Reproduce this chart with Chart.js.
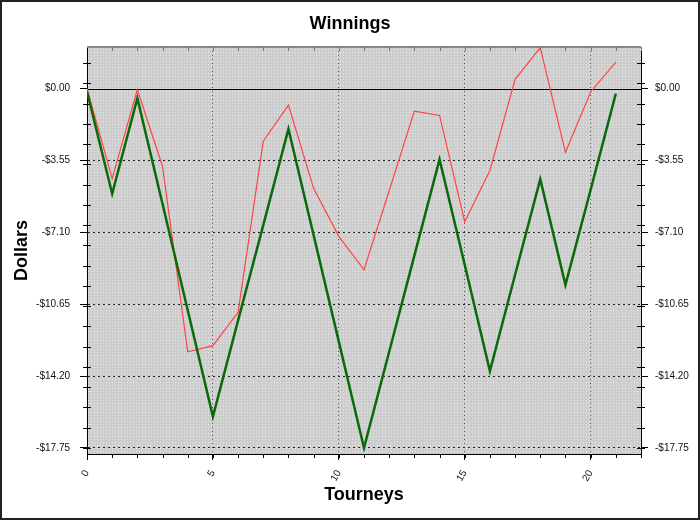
<!DOCTYPE html>
<html>
<head>
<meta charset="utf-8">
<script src="https://cdn.jsdelivr.net/npm/chart.js@4.4.1/dist/chart.umd.min.js"></script>
<style>
  html, body { margin: 0; padding: 0; background: #fff; }
  #grafico { display: block; }
</style>
</head>
<body>
<canvas id="grafico" width="700" height="520"></canvas>
<script>
// dados
const tourneys = [0, 1, 2, 3, 4, 5, 6, 7, 8, 9, 10, 11, 12, 13, 14, 15, 16, 17, 18, 19, 20, 21];
const winnings = [-0.15, -5.2, -0.48, -5.7, -10.95, -16.2, -11.45, -6.75, -2.0, -7.25, -12.5, -17.75,
  -13.0, -8.25, -3.5, -8.7, -13.95, -9.2, -4.48, -9.7, -5.0, -0.25];
const otherLine = [0, -4.45, -0.05, -3.85, -13.0, -12.7, -11.05, -2.6, -0.82, -4.93, -7.3, -8.95,
  -5.05, -1.12, -1.33, -6.58, -4.05, 0.45, 2.02, -3.15, -0.17, 1.3];
const yTicks = [0, -3.55, -7.1, -10.65, -14.2, -17.75];
const xTicks = [0, 5, 10, 15, 20];

Chart.defaults.font.family = "'Liberation Sans', Arial, sans-serif";

function dollars(v) {
  return (v < 0 ? "-$" : "$") + Math.abs(v).toFixed(2);
}

// fundo pontilhado
function makePattern(ctx) {
  const p = document.createElement("canvas");
  p.width = 3;
  p.height = 3;
  const pc = p.getContext("2d");
  pc.fillStyle = "#cdcdcd";
  pc.fillRect(0, 0, 3, 3);
  pc.fillStyle = "#e9e9e9";
  pc.fillRect(1, 1, 1, 1);
  return ctx.createPattern(p, "repeat");
}

const decor = {
  id: "decor",
  beforeDraw(chart) {
    const { ctx, chartArea: a } = chart;
    ctx.save();
    ctx.fillStyle = "#fff";
    ctx.fillRect(0, 0, chart.width, chart.height);
    ctx.fillStyle = makePattern(ctx);
    ctx.fillRect(a.left, a.top, a.right - a.left, a.bottom - a.top);
    ctx.restore();
  },
  beforeDatasetsDraw(chart) {
    const { ctx, chartArea: a, scales } = chart;
    const y = scales.y;
    const x = scales.x;
    ctx.save();
    // linha do zero
    const y0 = Math.round(y.getPixelForValue(0)) + 0.5;
    ctx.strokeStyle = "#000";
    ctx.lineWidth = 1;
    ctx.beginPath();
    ctx.moveTo(a.left, y0);
    ctx.lineTo(a.right, y0);
    ctx.stroke();
    // borda de cima cinza
    ctx.strokeStyle = "#8a8a8a";
    ctx.lineWidth = 2;
    ctx.beginPath();
    ctx.moveTo(a.left, a.top);
    ctx.lineTo(a.right, a.top);
    ctx.stroke();
    // ticks menores
    ctx.lineWidth = 1;
    ctx.strokeStyle = "#000";
    ctx.beginPath();
    for (let v = -17.75; v <= y.max; v += 1) {
      const py = Math.round(y.getPixelForValue(v)) + 0.5;
      ctx.moveTo(a.left - 4, py);
      ctx.lineTo(a.left + 4, py);
      ctx.moveTo(a.right - 4, py);
      ctx.lineTo(a.right + 4, py);
    }
    for (let t = 0; t <= x.max; t++) {
      const px = Math.round(x.getPixelForValue(t)) + 0.5;
      ctx.moveTo(px, a.bottom);
      ctx.lineTo(px, a.bottom + 4);
    }
    ctx.stroke();
    ctx.strokeStyle = "#777";
    ctx.beginPath();
    for (let t = 1; t <= x.max; t++) {
      const px = Math.round(x.getPixelForValue(t)) + 0.5;
      ctx.moveTo(px, a.top);
      ctx.lineTo(px, a.top + 4);
    }
    ctx.stroke();
    ctx.restore();
  },
  afterDraw(chart) {
    const ctx = chart.ctx;
    ctx.save();
    ctx.strokeStyle = "#222";
    ctx.lineWidth = 2;
    ctx.strokeRect(1, 1, chart.width - 2, chart.height - 2);
    ctx.restore();
  },
};

const tickFont = { size: 10 };

let grafico = new Chart(document.getElementById("grafico"), {
  type: "line",
  data: {
    labels: tourneys,
    datasets: [
      {
        label: "Winnings",
        data: winnings,
        borderColor: "#0a6a0a",
        borderWidth: 2.5,
        pointRadius: 0,
        tension: 0,
        order: 0,
      },
      {
        label: "Other",
        data: otherLine,
        borderColor: "#ff4444",
        borderWidth: 1.2,
        pointRadius: 0,
        tension: 0,
        order: 1,
      },
    ],
  },
  options: {
    responsive: false,
    animation: false,
    devicePixelRatio: 1,
    layout: { padding: 0 },
    plugins: {
      legend: { display: false },
      tooltip: { enabled: false },
      title: {
        display: true,
        text: "Winnings",
        color: "#000",
        font: { size: 18, weight: "bold" },
        padding: { top: 13, bottom: 12.4 },
      },
    },
    scales: {
      x: {
        type: "linear",
        min: 0,
        max: 22,
        afterBuildTicks: (s) => {
          s.ticks = xTicks.map((v) => ({ value: v }));
        },
        afterFit: (s) => {
          s.height = 66;
        },
        grid: {
          color: "#555",
          tickLength: 6,
          tickColor: "#000",
          tickBorderDash: [],
        },
        border: { color: "#000", width: 1, dash: [1, 3] },
        ticks: {
          color: "#111",
          font: tickFont,
          padding: 8,
          minRotation: 60,
          maxRotation: 60,
          autoSkip: false,
        },
        title: {
          display: true,
          text: "Tourneys",
          color: "#000",
          font: { size: 18, weight: "bold" },
          padding: { top: 0, bottom: 14 },
        },
      },
      y: {
        position: "left",
        min: -18.05,
        max: 2.05,
        afterBuildTicks: (s) => {
          s.ticks = yTicks.map((v) => ({ value: v }));
        },
        afterFit: (s) => {
          s.width = 87;
        },
        grid: {
          color: (c) => (c.tick && c.tick.value === 0 ? "rgba(0,0,0,0)" : "#222"),
          tickLength: 7,
          tickColor: "#000",
          tickBorderDash: [],
        },
        border: { color: "#000", width: 1, dash: [2, 3] },
        ticks: { color: "#111", font: tickFont, padding: 10, callback: dollars },
        title: {
          display: true,
          text: "Dollars",
          color: "#000",
          font: { size: 18, weight: "bold" },
          padding: { top: 11, bottom: 0 },
        },
      },
      y2: {
        position: "right",
        min: -18.05,
        max: 2.05,
        afterBuildTicks: (s) => {
          s.ticks = yTicks.map((v) => ({ value: v }));
        },
        afterFit: (s) => {
          s.width = 59;
        },
        grid: {
          drawOnChartArea: false,
          tickLength: 7,
          tickColor: "#000",
          tickBorderDash: [],
        },
        border: { color: "#000", width: 1 },
        ticks: { color: "#111", font: tickFont, padding: 7, callback: dollars },
      },
    },
  },
  plugins: [decor],
});
</script>
</body>
</html>
